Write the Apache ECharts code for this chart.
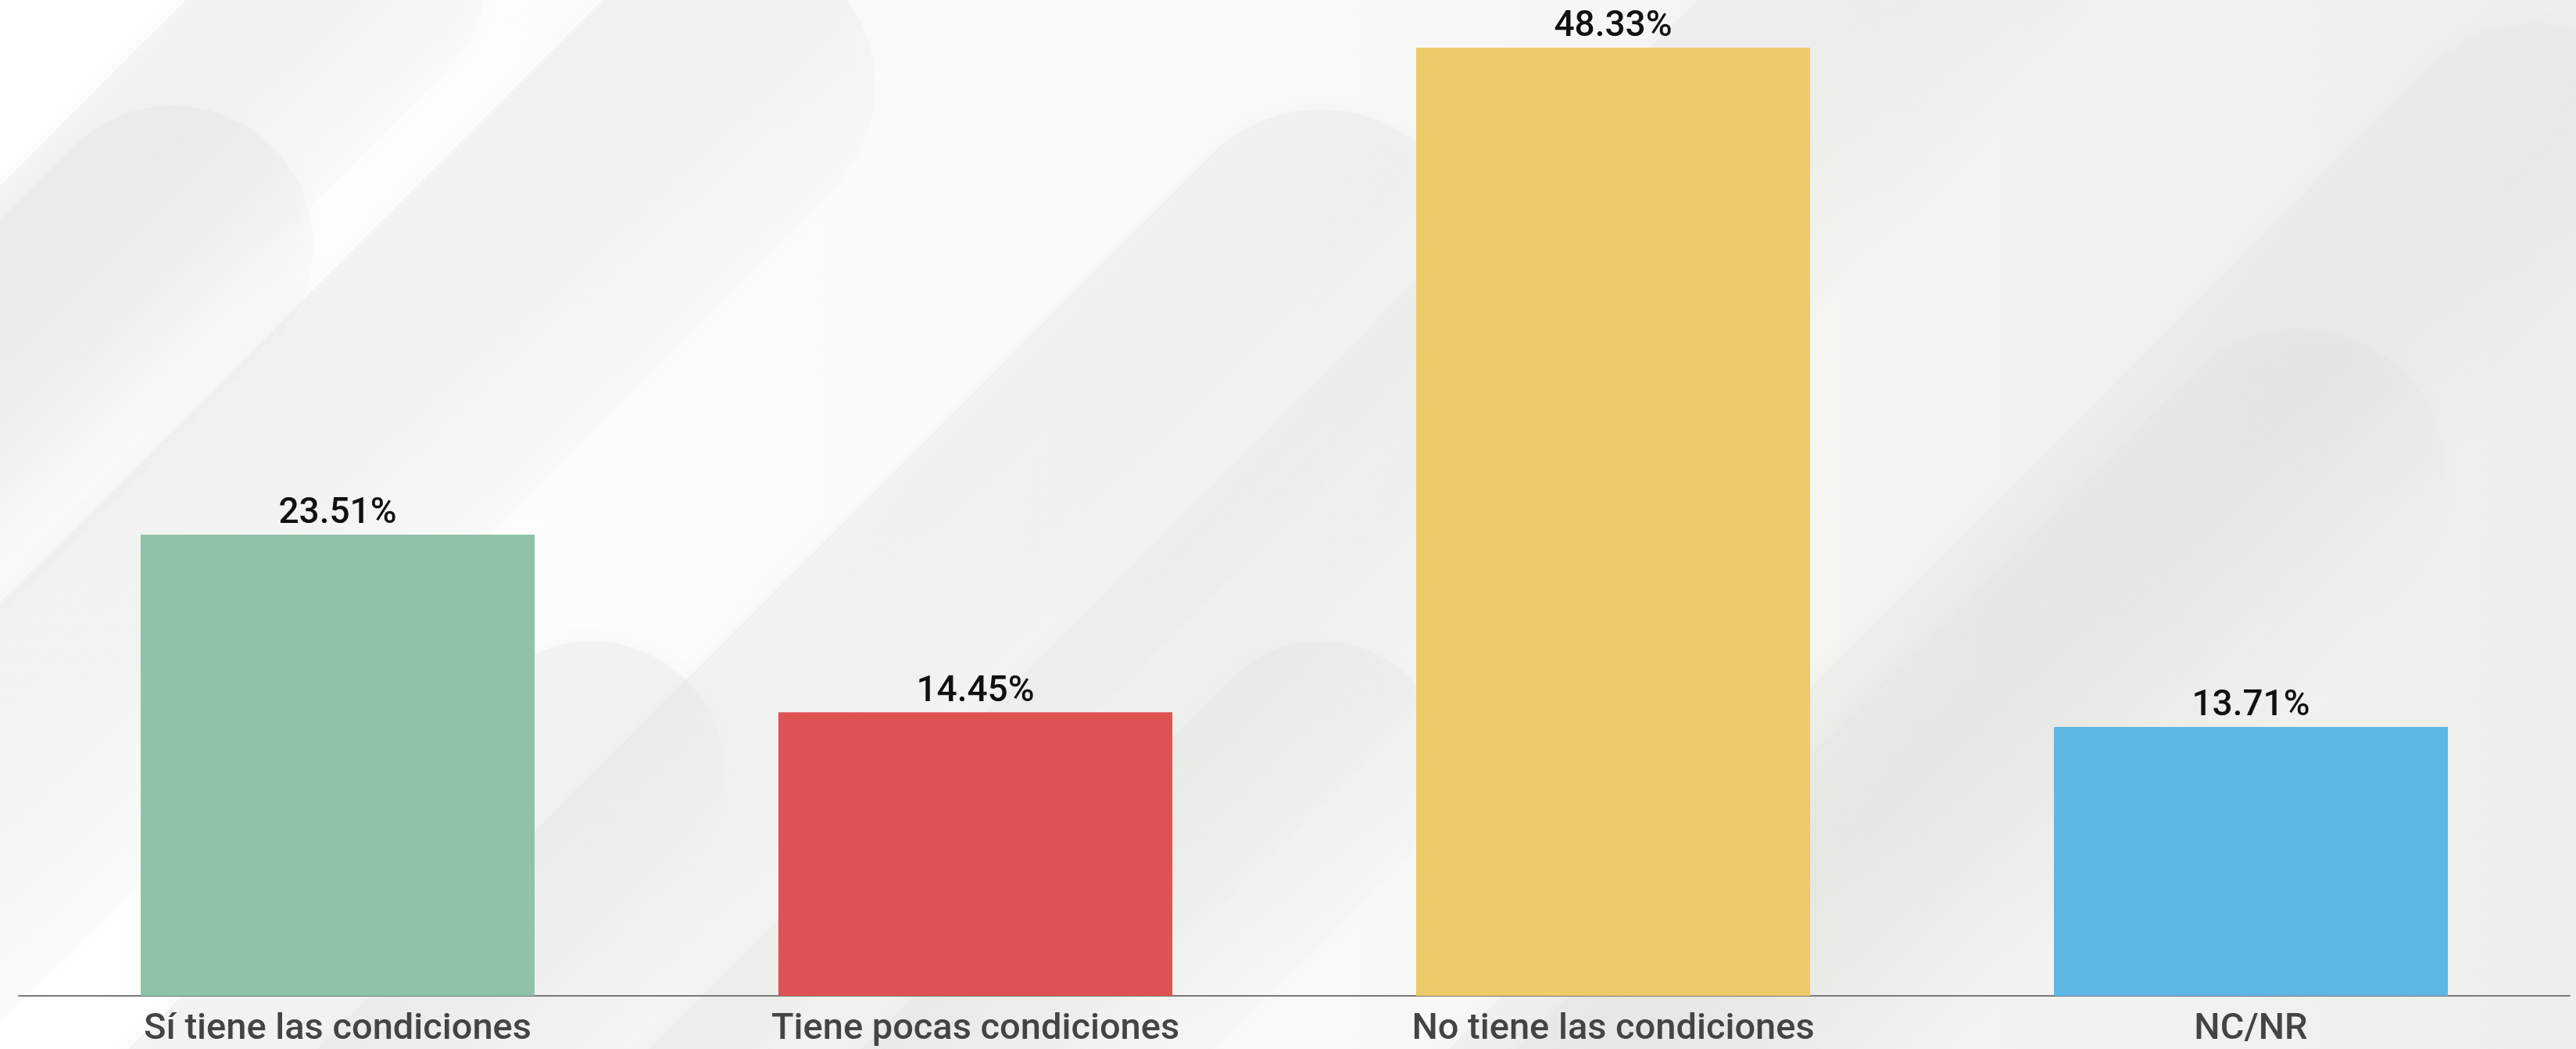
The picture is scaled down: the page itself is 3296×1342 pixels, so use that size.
<!DOCTYPE html>
<html>
<head>
<meta charset="utf-8">
<script src="https://cdn.jsdelivr.net/npm/echarts@6/dist/echarts.min.js"></script>
<style>
  html, body { margin: 0; padding: 0; }
  #chart { width: 3296px; height: 1342px; }
</style>
</head>
<body>
<div id="chart"></div>
<script>
// datos
var categorias = ['Sí tiene las condiciones', 'Tiene pocas condiciones', 'No tiene las condiciones', 'NC/NR'];
var valores = [23.51, 14.45, 48.33, 13.71];
var colores = ['#8ec3a7', '#de5254', '#eeca6a', '#5eb6e4'];

// formas decorativas del fondo (cápsulas diagonales)
var capsulas = [
  [221, 315, 180], [930, 110, 190], [470, -20, 150], [1690, 340, 200],
  [757, 990, 170], [1690, 980, 160], [2940, 610, 190], [3240, 210, 180],
  [2500, -60, 190]
];

var chart = echarts.init(document.getElementById('chart'));

var fondo = capsulas.map(function (c) {
  return {
    type: 'rect',
    silent: true,
    z: -10,
    originX: c[0],
    originY: c[1],
    rotation: -Math.PI / 4,
    shape: { x: c[0] - c[2], y: c[1] - c[2], width: c[2] * 2, height: 2600, r: c[2] },
    style: {
      fill: new echarts.graphic.LinearGradient(0, 0, 1, 0, [
        { offset: 0, color: 'rgba(232,232,228,0.4)' },
        { offset: 0.5, color: 'rgba(226,226,222,0.3)' },
        { offset: 1, color: 'rgba(240,240,236,0.2)' }
      ]),
      shadowBlur: 30,
      shadowColor: 'rgba(0,0,0,0.05)'
    }
  };
});

var option = {
  backgroundColor: new echarts.graphic.LinearGradient(0, 0, 1, 0, [
    { offset: 0, color: '#ffffff' },
    { offset: 0.5, color: '#f9f9f8' },
    { offset: 1, color: '#eeeeea' }
  ]),
  animation: false,
  graphic: fondo,
  grid: {
    left: 24,
    right: 8,
    top: 19,
    bottom: 68
  },
  xAxis: {
    type: 'category',
    data: categorias,
    axisTick: { show: false },
    axisLine: {
      show: true,
      lineStyle: { color: '#7a7a78', width: 2 }
    },
    axisLabel: {
      interval: 0,
      margin: 20,
      color: '#444444',
      fontFamily: 'Roboto',
      fontWeight: 500,
      fontSize: 47
    }
  },
  yAxis: {
    type: 'value',
    min: 0,
    max: 50,
    show: false,
    splitLine: { show: false }
  },
  series: [{
    type: 'bar',
    barWidth: 504,
    data: valores.map(function (v, i) {
      return { value: v, itemStyle: { color: colores[i] } };
    }),
    label: {
      show: true,
      position: 'top',
      distance: 3,
      color: '#111111',
      fontFamily: 'Roboto',
      fontWeight: 500,
      fontSize: 46,
      formatter: function (p) { return p.value.toFixed(2) + '%'; }
    }
  }]
};

chart.setOption(option);
</script>
</body>
</html>
